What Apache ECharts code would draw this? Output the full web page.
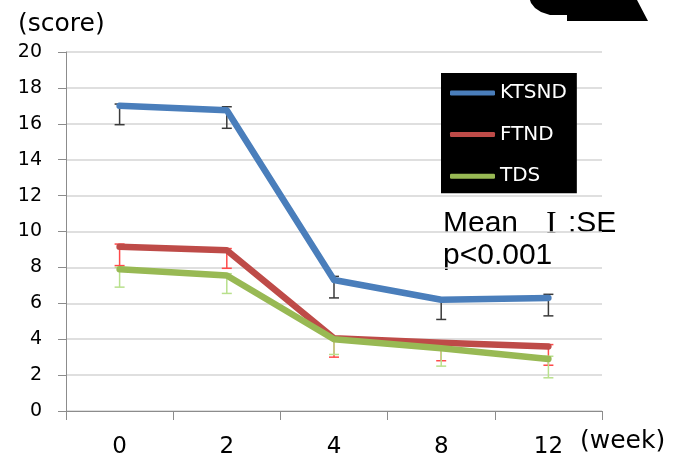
<!DOCTYPE html>
<html>
<head>
<meta charset="utf-8">
<script src="https://cdn.jsdelivr.net/npm/echarts@6/dist/echarts.min.js"></script>
<style>html,body{margin:0;padding:0;background:#fff;}#c{width:679px;height:462px;}</style>
</head>
<body>
<div id="c"></div>
<script>
const weeks = ['0', '2', '4', '8', '12'];
const yTicks = { min: 0, max: 20, interval: 2 };

const seriesNames = ['KTSND', 'FTND', 'TDS'];
const ktsnd   = [17.0, 16.75, 7.3, 6.2, 6.3];
const ktsndHi = [17.1, 16.95, 7.5, 6.3, 6.5];
const ktsndLo = [15.95, 15.75, 6.3, 5.1, 5.3];
const ftnd    = [9.15, 8.95, 4.05, 3.8, 3.6];
const ftndHi  = [9.3, 9.05, 4.1, 3.85, 3.7];
const ftndLo  = [8.1, 7.95, 3.0, 2.8, 2.55];
const tds     = [7.9, 7.55, 4.0, 3.5, 2.9];
const tdsHi   = [8.0, 7.65, 4.05, 3.55, 3.05];
const tdsLo   = [6.9, 6.55, 3.15, 2.5, 1.85];

const lineColors = ['#4a7ebb', '#be4b48', '#98b954'];
const errColors = ['#3a3a3a', '#ff4a4a', '#b8e08c'];

function errSeries(name, hi, lo, color) {
  return {
    type: 'custom',
    name: name + ' SE',
    z: 1,
    silent: true,
    data: weeks.map((w, i) => [i, hi[i], lo[i]]),
    encode: { x: 0, y: [1, 2] },
    renderItem: function (params, api) {
      const top = api.coord([api.value(0), api.value(1)]);
      const bot = api.coord([api.value(0), api.value(2)]);
      const hw = 5;
      const st = { stroke: color, lineWidth: 1.5 };
      return {
        type: 'group',
        children: [
          { type: 'line', shape: { x1: top[0], y1: top[1], x2: bot[0], y2: bot[1] }, style: st },
          { type: 'line', shape: { x1: top[0] - hw, y1: top[1], x2: top[0] + hw, y2: top[1] }, style: st },
          { type: 'line', shape: { x1: bot[0] - hw, y1: bot[1], x2: bot[0] + hw, y2: bot[1] }, style: st }
        ]
      };
    }
  };
}

function lineSeries(name, data, color) {
  return {
    type: 'line',
    name: name,
    z: 3,
    data: data,
    symbol: 'none',
    color: color,
    lineStyle: { color: color, width: 6.5, cap: 'round', join: 'round' }
  };
}

const chart = echarts.init(document.getElementById('c'), null, { renderer: 'canvas' });
chart.setOption({
  animation: false,
  backgroundColor: '#fff',
  grid: { left: 66, right: 77, top: 52, bottom: 51 },
  xAxis: {
    type: 'category',
    data: weeks,
    boundaryGap: true,
    axisLine: { lineStyle: { color: '#8c8c8c', width: 1 } },
    axisTick: { show: true, length: 9, lineStyle: { color: '#8c8c8c' } },
    axisLabel: { fontFamily: 'DejaVu Sans', fontSize: 23, color: '#000', margin: 25 },
    splitLine: { show: false }
  },
  yAxis: {
    type: 'value',
    min: yTicks.min, max: yTicks.max, interval: yTicks.interval,
    axisLine: { show: true, lineStyle: { color: '#8c8c8c', width: 1 } },
    axisTick: { show: true, length: 8, lineStyle: { color: '#8c8c8c' } },
    axisLabel: { fontFamily: 'DejaVu Sans', fontSize: 19, color: '#000', margin: 24 },
    splitLine: { show: true, lineStyle: { color: '#d4d4d4', width: 1.5 } }
  },
  legend: {
    orient: 'vertical',
    left: 441, top: 73,
    backgroundColor: '#000',
    padding: [10, 10, 7, 9],
    itemGap: 21.6,
    itemWidth: 45, itemHeight: 5,
    textStyle: { color: '#fff', fontFamily: 'DejaVu Sans', fontSize: 20, lineHeight: 20 },
    data: seriesNames.map(n => ({ name: n, icon: 'roundRect' }))
  },
  graphic: [
    { type: 'text', left: 18, top: 12, style: { text: '(score)', fontFamily: 'DejaVu Sans', fontSize: 25, fill: '#000' } },
    { type: 'text', left: 580, top: 429, style: { text: '(week)', fontFamily: 'DejaVu Sans', fontSize: 25, fill: '#000' } },
    { type: 'text', x: 443, y: 224, style: { text: 'Mean', fontFamily: 'Liberation Sans', fontSize: 30, fill: '#000', verticalAlign: 'middle' } },
    { type: 'text', x: 546, y: 225, style: { text: 'I', fontFamily: 'Liberation Serif', fontSize: 32, fill: '#000', verticalAlign: 'middle' } },
    { type: 'text', x: 568, y: 224, style: { text: ':SE', fontFamily: 'Liberation Sans', fontSize: 30, fill: '#000', verticalAlign: 'middle' } },
    { type: 'text', x: 443, y: 256, style: { text: 'p<0.001', fontFamily: 'Liberation Sans', fontSize: 30, fill: '#000', verticalAlign: 'middle' } },
    { type: 'polygon', shape: { points: [[530,0],[637,0],[648,21],[567,21],[567,15],[550,15],[541,12],[535,8],[531,3]] }, style: { fill: '#000' } }
  ],
  series: [
    errSeries('KTSND', ktsndHi, ktsndLo, errColors[0]),
    errSeries('FTND', ftndHi, ftndLo, errColors[1]),
    errSeries('TDS', tdsHi, tdsLo, errColors[2]),
    lineSeries('KTSND', ktsnd, lineColors[0]),
    lineSeries('FTND', ftnd, lineColors[1]),
    lineSeries('TDS', tds, lineColors[2])
  ]
});
</script>
</body>
</html>
